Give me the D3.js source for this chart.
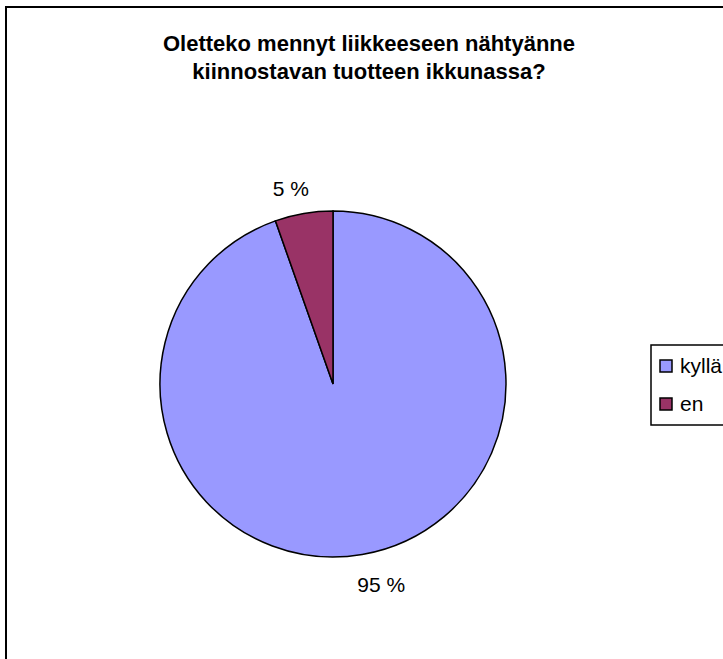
<!DOCTYPE html>
<html>
<head>
<meta charset="utf-8">
<script src="https://cdn.jsdelivr.net/npm/d3@7/dist/d3.min.js"></script>
<style>
  html, body { margin: 0; padding: 0; background: #fff; }
  svg { display: block; }
  text { font-family: "Liberation Sans", Arial, sans-serif; fill: #000; }
</style>
</head>
<body>
<svg id="chart" width="723" height="659"></svg>
<script>
const titleLines = ["Oletteko mennyt liikkeeseen nähtyänne", "kiinnostavan tuotteen ikkunassa?"];
const categories = ["kyllä", "en"];
const values = [94.6, 5.4];
const colors = ["#9999FF", "#993366"];

const svg = d3.select("#chart");

// chart area border (extends beyond the window on the right and bottom)
svg.append("rect")
  .attr("x", 6).attr("y", 7)
  .attr("width", 760).attr("height", 760)
  .attr("fill", "#fff").attr("stroke", "#000").attr("stroke-width", 2);

// title
svg.append("g").selectAll("text").data(titleLines).join("text")
  .attr("x", 369).attr("y", (d, i) => 51 + i * 28)
  .attr("text-anchor", "middle")
  .style("font-weight", "bold").style("font-size", "22px")
  .text(d => d);

// pie
const cx = 333, cy = 384, r = 173;
const data = categories.map((c, i) => ({ cat: c, value: values[i], color: colors[i] }));
const pie = d3.pie().value(d => d.value).sort(null);
const arcs = pie(data);
const arc = d3.arc().innerRadius(0).outerRadius(r);
const g = svg.append("g").attr("transform", `translate(${cx},${cy})`);
g.selectAll("path").data(arcs).join("path")
  .attr("d", arc)
  .attr("fill", d => d.data.color)
  .attr("stroke", "#000").attr("stroke-width", 1.5);

// labels
const fmt = d3.format(".0f");
g.selectAll("text.lbl").data(arcs).join("text")
  .attr("class", "lbl")
  .attr("transform", d => {
    const a = (d.startAngle + d.endAngle) / 2 - 0.055;
    const R = r + 30;
    return `translate(${R * Math.sin(a) + 3},${-R * Math.cos(a) + 3})`;
  })
  .attr("text-anchor", "middle").attr("dy", "0.35em")
  .style("font-size", "21px")
  .text(d => fmt(d.data.value) + " %");

// legend
const lg = svg.append("g").attr("transform", "translate(651,345)");
lg.append("rect").attr("x", 0).attr("y", 0).attr("width", 80).attr("height", 80)
  .attr("fill", "#fff").attr("stroke", "#000").attr("stroke-width", 1.5);
const items = lg.selectAll("g.item").data(data).join("g")
  .attr("class", "item")
  .attr("transform", (d, i) => `translate(9,${21 + i * 38})`);
items.append("rect").attr("x", 0).attr("y", -6).attr("width", 12).attr("height", 12)
  .attr("fill", d => d.color).attr("stroke", "#000").attr("stroke-width", 1.5);
items.append("text").attr("x", 20).attr("y", 0).attr("dy", "0.35em")
  .style("font-size", "21px")
  .text(d => d.cat);
</script>
</body>
</html>
